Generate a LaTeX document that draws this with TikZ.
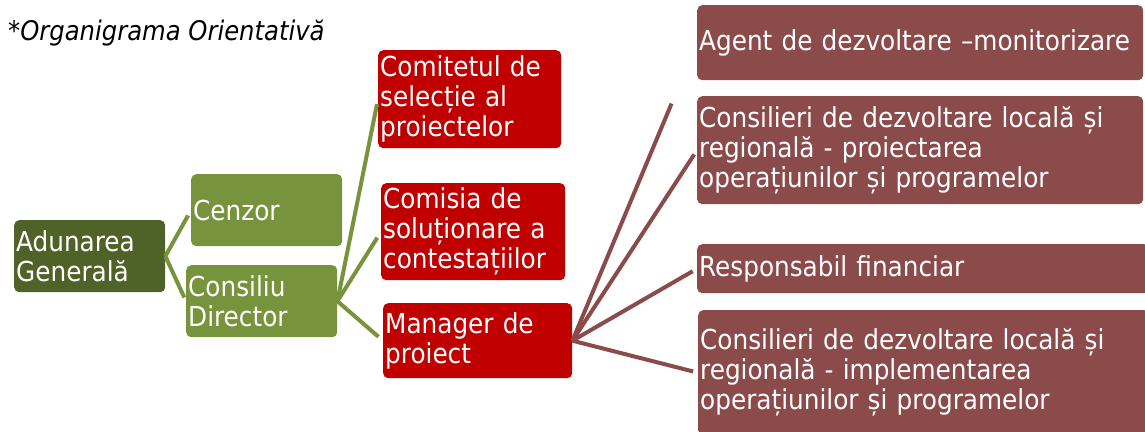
\documentclass[tikz,border=0pt]{standalone}
\usepackage{fontspec}
\setmainfont{DejaVu Sans Condensed}
\definecolor{dkgreen}{HTML}{4F6228}
\definecolor{ltgreen}{HTML}{77933C}
\definecolor{boxred}{HTML}{C00000}
\definecolor{boxbrown}{HTML}{8C4B4B}
\tikzset{
  box/.style={rounded corners=5pt, anchor=north west, inner sep=2pt, align=left,
    text=white, font=\fontsize{27.5}{30}\selectfont},
  gline/.style={draw=ltgreen, line width=4pt},
  bline/.style={draw=boxbrown, line width=4pt},
}
\newcommand{\mybox}[7]{%
  \node[box, fill=#1, minimum width=#4pt, minimum height=#5pt, text width=#4pt-4pt] (#6) at (#2,#3) {#7};}
\begin{document}
\begin{tikzpicture}[x=1pt,y=-1pt]
\useasboundingbox (0,0) rectangle (1145,431);
\node[anchor=base west, inner sep=0pt, font=\fontsize{27}{30}\selectfont\itshape] (title) at (8,40) {*Organigrama Orientativă};
\mybox{dkgreen}{14}{220}{151}{72}{ag}{\mbox{Adunarea}\\\mbox{Generală}}
\mybox{ltgreen}{191}{174}{151}{72}{cen}{\mbox{Cenzor}}
\mybox{ltgreen}{186}{265}{151}{72}{cd}{\mbox{Consiliu}\\\mbox{Director}}
\mybox{boxred}{378}{50}{183}{98}{com}{\mbox{Comitetul de}\\\mbox{selecție al}\\\mbox{proiectelor}}
\mybox{boxred}{381}{183}{184}{97}{cms}{\mbox{Comisia de}\\\mbox{soluționare a}\\\mbox{contestațiilor}}
\mybox{boxred}{383}{303}{189}{75}{mgr}{\mbox{Manager de}\\\mbox{proiect}}
\mybox{boxbrown}{697}{5}{446}{75}{agt}{\mbox{Agent de dezvoltare –monitorizare}}
\mybox{boxbrown}{697}{96}{446}{108}{cp}{\mbox{Consilieri de dezvoltare locală și}\\\mbox{regională - proiectarea}\\\mbox{operațiunilor și programelor}}
\mybox{boxbrown}{697}{244}{452}{49}{rf}{\mbox{Responsabil financiar}}
\mybox{boxbrown}{698}{310}{451}{125}{ci}{\mbox{Consilieri de dezvoltare locală și}\\\mbox{regională - implementarea}\\\mbox{operațiunilor și programelor}}
% green connectors
\draw[gline, shorten >=6pt] (ag.east) -- (cen.west);
\draw[gline, shorten >=4pt] (ag.east) -- (cd.west);
\draw[gline, shorten >=5pt] (cd.east) -- (com.west);
\draw[gline, shorten >=7pt] (cd.east) -- (cms.west);
\draw[gline, shorten >=6pt] (cd.east) -- (mgr.west);
% brown connectors
\draw[bline, shorten >=66pt] (mgr.east) -- (agt.west);
\draw[bline, shorten >=5pt] (mgr.east) -- (cp.west);
\draw[bline, shorten >=5pt] (mgr.east) -- (rf.west);
\draw[bline, shorten >=5pt] (mgr.east) -- (ci.west);
\end{tikzpicture}
\end{document}
